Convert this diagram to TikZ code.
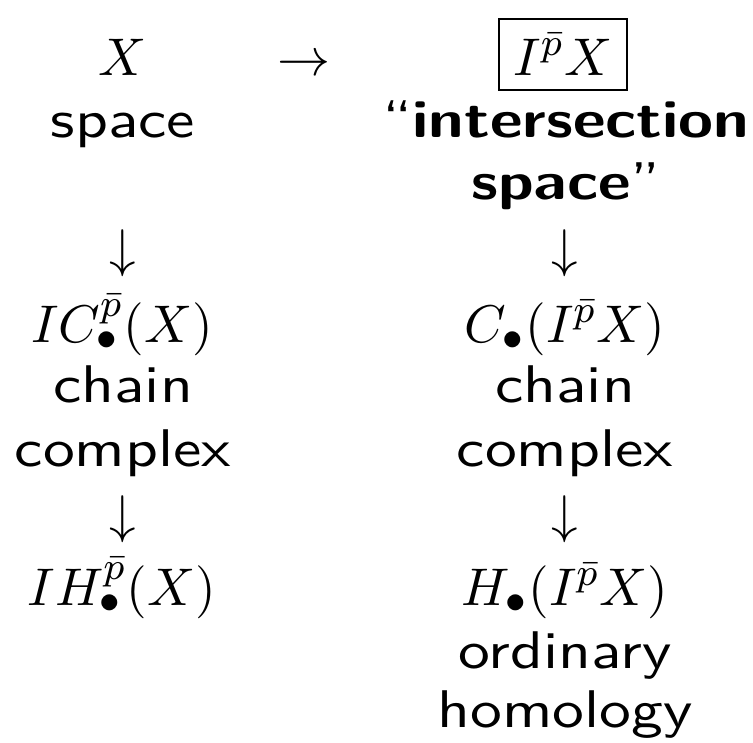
\RequirePackage{fix-cm}
\documentclass[tikz,border=0pt]{standalone}
\usepackage{fontspec}
\newfontfamily\brt{lmsans10-regular}[Extension=.otf, BoldFont=lmsans10-bold, FakeStretch=1.2, Ligatures=TeX]
\begin{document}
\begin{tikzpicture}[x=0.2066pt,y=-0.2066pt,
  txt/.style={inner sep=0pt,anchor=base,font=\fontsize{10.95}{13.2}\selectfont\brt},
  boxed/.style={txt,draw,line width=0.41pt,inner sep=3.1pt,text depth=0pt}]
\useasboundingbox (0,0) rectangle (753,742);
% top row
\node[txt] (X) at (123,75) {$X$};
\node[txt] (to) at (304,75) {$\rightarrow$};
\node[boxed] (IX) at (563,75) {$I^{\bar{p}}X$};
\node[txt] (sp) at (123,137) {space};
\node[txt] (is1) at (566,137) {``\textbf{intersection}};
\node[txt] (is2) at (566,199) {\textbf{space}''};
% arrows 1
\node[txt] (d1) at (123,266) {$\downarrow$};
\node[txt] (d2) at (565,266) {$\downarrow$};
% chain row
\node[txt] (IC) at (122,342) {$IC^{\bar{p}}_{\bullet}(X)$};
\node[txt] (C) at (565,342) {$C_{\bullet}(I^{\bar{p}}X)$};
\node[txt] (ch1) at (123,402) {chain};
\node[txt] (cx1) at (123,466) {complex};
\node[txt] (ch2) at (565,402) {chain};
\node[txt] (cx2) at (565,466) {complex};
% arrows 2
\node[txt] (d3) at (123,532) {$\downarrow$};
\node[txt] (d4) at (565,532) {$\downarrow$};
% homology row
\node[txt] (IH) at (122,605) {$IH^{\bar{p}}_{\bullet}(X)$};
\node[txt] (H) at (565,605) {$H_{\bullet}(I^{\bar{p}}X)$};
\node[txt] (od) at (565,668) {ordinary};
\node[txt] (hm) at (565,727) {homology};
\end{tikzpicture}
\end{document}
